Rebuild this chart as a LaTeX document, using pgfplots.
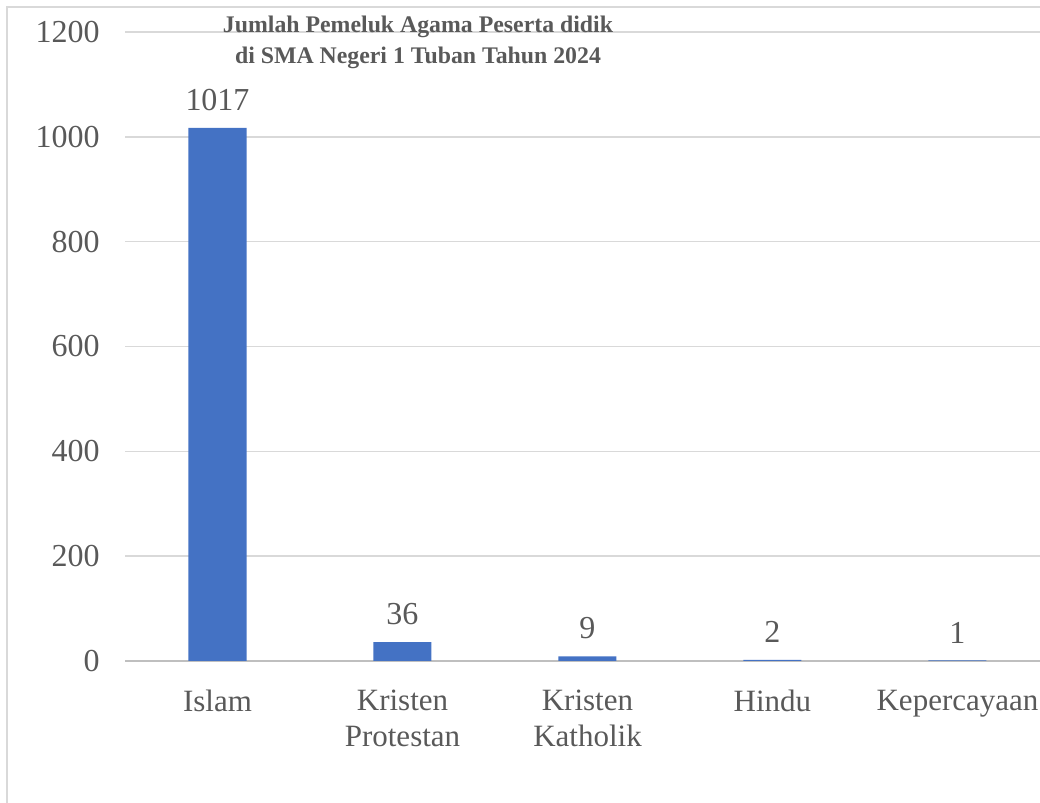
\documentclass[border=0pt]{standalone}
\usepackage{pgfplots}
\pgfplotsset{compat=1.18}
\usepackage{fontspec}
\setmainfont{Liberation Serif}
\definecolor{barblue}{HTML}{4472C4}
\definecolor{txtgray}{HTML}{595959}
\definecolor{gridgray}{HTML}{D9D9D9}
\definecolor{zerogray}{HTML}{BFBFBF}
\begin{document}
\begin{tikzpicture}
\path[use as bounding box, clip] (0,0) rectangle (520pt,401.5pt);
\draw[gridgray, line width=0.75pt] (3.5pt,-5pt) -- (3.5pt,398pt) -- (530pt,398pt);
\begin{axis}[
  at={(62.5pt,71pt)}, anchor=south west,
  scale only axis, width=462.5pt, height=314.5pt,
  xmin=-0.5, xmax=4.5, ymin=0, ymax=1200,
  ytick={0,200,...,1200},
  yticklabels={0,200,400,600,800,1000,1200},
  xtick={0,1,2,3,4},
  xticklabels={Islam, Kristen\\Protestan, Kristen\\Katholik, Hindu, Kepercayaan},
  ymajorgrids, grid style={gridgray, line width=0.75pt},
  axis x line*=bottom, axis y line*=left,
  x axis line style={zerogray, line width=1pt, -},
  y axis line style={draw=none, -},
  major tick length=0pt,
  tick style={draw=none},
  yticklabel style={font=\fontsize{16}{18}\selectfont, text=txtgray, inner sep=0pt, anchor=east, xshift=-12.5pt},
  xticklabel style={font=\fontsize{15.5}{18}\selectfont, text=txtgray, inner sep=0pt, anchor=north, align=center, yshift=-14.5pt},
  ybar, bar width=29pt,
  point meta=explicit symbolic,
  nodes near coords,
  nodes near coords style={font=\fontsize{16}{18}\selectfont, text=txtgray, inner sep=0pt, anchor=south, yshift=8.5pt},
  clip=false,
]
\addplot[fill=barblue, draw=none] coordinates {(0,1017)[1017] (1,36)[36] (2,9)[9] (3,2)[2] (4,1)[1]};
\end{axis}
\node[anchor=base, text=txtgray, font=\bfseries\fontsize{11.9}{13}\selectfont] at (209pt,385pt) {Jumlah Pemeluk Agama Peserta didik};
\node[anchor=base, text=txtgray, font=\bfseries\fontsize{11.9}{13}\selectfont] at (209pt,369.5pt) {di SMA Negeri 1 Tuban Tahun 2024};
\end{tikzpicture}
\end{document}
